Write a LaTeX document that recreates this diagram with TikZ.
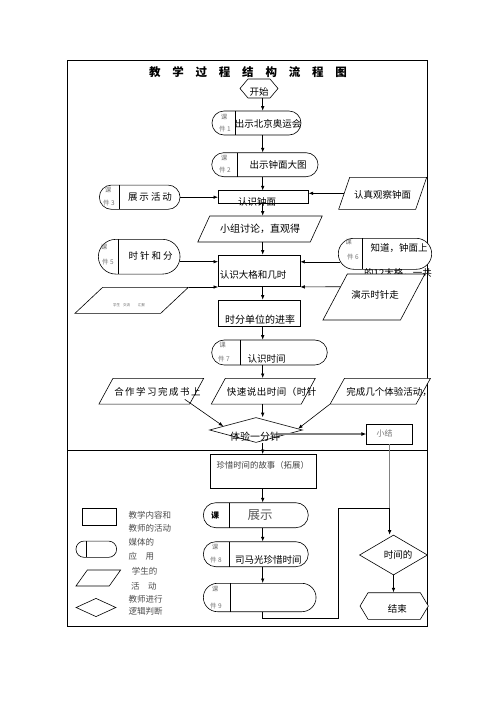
\documentclass[tikz,border=0pt]{standalone}
\usepackage{fontspec}
\setmainfont{Noto Sans CJK SC}
\usetikzlibrary{shapes.misc,shapes.geometric,shapes.symbols,arrows.meta,calc}
\newcommand{\tg}{\hspace{11.8pt}}
\begin{document}
\begin{tikzpicture}[x=1pt,y=-1pt,
  box/.style={draw,rectangle,line width=.6pt,fill=white,inner sep=0},
  pill/.style={draw,rounded rectangle,line width=.6pt,fill=white,inner sep=0},
  para/.style={draw,rectangle,line width=.6pt,fill=white,inner sep=0},
  dia/.style={draw,diamond,line width=.6pt,fill=white,inner sep=0},
  hexa/.style={draw,signal,signal to=west and east,line width=.6pt,fill=white,inner sep=0},
  tx/.style={inner sep=0,font=\fontsize{9.5}{10}\selectfont},
  sm/.style={inner sep=0,text=black!55,font=\fontsize{6.5}{7}\selectfont},
  lg/.style={inner sep=0,anchor=west,text=black!70,font=\fontsize{8.5}{9}\selectfont},
  divl/.style={line width=.6pt},
  arr/.style={line width=.6pt,-{Latex[length=4.5pt,width=3.5pt]}},
  gline/.style={draw=black!50,line width=1.3pt}]
\useasboundingbox (0,0) rectangle (496,702);
\fill[white] (0,0) rectangle (496,702);
% frame
\draw[line width=.8pt] (67.7,60.7) rectangle (427.7,626);
\draw[line width=.8pt] (67.7,450.7) -- (427.7,450.7);
\coordinate (ax) at (262.7,0);
% title
\node[inner sep=0,font=\bfseries\fontsize{11.5}{12}\selectfont] (title) at (248,72)
  {教\tg 学\tg 过\tg 程\tg 结\tg 构\tg 流\tg 程\tg 图};
% start
\node[hexa,minimum width=38,minimum height=19,signal pointer angle=100] (start) at (259,88.5) {};
\node[tx] (tstart) at (259,92) {开始};
% k1
\node[pill,minimum width=89,minimum height=24] (k1) at (256.5,123) {};
\draw[divl] (235,111) -- (235,135);
\node[sm] (k1a) at (224,117) {课};
\node[sm] (k1b) at (225,129) {件 1};
\node[tx] (k1t) at (268,124) {出示北京奥运会};
% k2
\node[pill,minimum width=106.3,minimum height=24] (k2) at (264.9,164.7) {};
\draw[divl] (237.3,152.7) -- (237.3,176.7);
\node[sm] (k2a) at (224,158) {课};
\node[sm] (k2b) at (225,170) {件 2};
\node[tx] (k2t) at (278,165) {出示钟面大图};
% 认识钟面
\node[box,minimum width=90,minimum height=12.6] (rzm) at (263.3,197) {};
\node[tx] (rzmt) at (257,202) {认识钟面};
% k3
\node[pill,minimum width=80.7,minimum height=24.3] (k3) at (139.7,197.2) {};
\draw[divl] (119.3,185) -- (119.3,209.3);
\node[sm] (k3a) at (108,190) {课};
\node[sm] (k3b) at (109,203) {件 3};
\node[tx] (k3t) at (150,197) {展\kern2pt 示\kern2pt 活\kern2pt 动};
% 认真观察钟面
\node[para,minimum width=77,minimum height=32,xslant=0.344] (rzgc) at (382.7,193.3) {};
\node[tx] (rzgct) at (382.7,195) {认真观察钟面};
% 小组讨论
\node[para,minimum width=112.5,minimum height=26,xslant=0.46] (xz) at (260,229) {};
\node[tx,font=\fontsize{10}{11}\selectfont] (xzt) at (260,229.3) {小组讨论，直观得};
% 认识大格和几时
\node[box,minimum width=81.7,minimum height=31.7] (dg) at (259.2,270.8) {};
\node[tx] (dgt) at (253,275) {认识大格和几时};
% k5
\node[pill,minimum width=81.7,minimum height=34.7] (k5) at (139.2,256.7) {};
\draw[divl] (118.3,239.3) -- (118.3,274);
\node[sm] (k5a) at (104,246.7) {课};
\node[sm] (k5b) at (108,261.7) {件 5};
\node[tx] (k5t) at (150.7,256) {时\kern2pt 针\kern2pt 和\kern2pt 分};
% k4 (left parallelogram)
\node[para,minimum width=85.7,minimum height=26,xslant=1.065] (k4) at (131.7,300.3) {};
\node[inner sep=0,text=black!60,font=\fontsize{3.5}{4}\selectfont] (k4t) at (129,305) {学生\hspace{3pt}交流\hspace{8pt}汇报};
% k6
\node[pill,minimum width=93.4,minimum height=31] (k6) at (385,253.8) {};
\draw[divl] (362,238.3) -- (362,269.3);
\node[sm] (k6a) at (348.5,242) {课};
\node[sm] (k6b) at (353,257) {件 6};
\node[tx] (k6t) at (399,248.3) {知道，钟面上};
\node[tx] (k6t2) at (398,273.3) {的12大格，一共};
% 演示时针走
\node[para,minimum width=77.5,minimum height=46,xslant=0.53] (ys) at (373.9,297) {};
\node[tx] (yst) at (375,295) {演示时针走};
% 时分单位的进率
\node[box,minimum width=82.4,minimum height=26.7] (sf) at (259.5,313.3) {};
\node[tx,font=\fontsize{10}{11}\selectfont] (sft) at (260,320) {时分单位的进率};
% k7
\node[pill,minimum width=115.6,minimum height=25] (k7) at (269.5,352.5) {};
\draw[divl] (240,340) -- (240,365);
\node[sm] (k7a) at (222.7,345.5) {课};
\node[sm] (k7b) at (224,359) {件 7};
\node[tx] (k7t) at (266.7,359.3) {认识时间};
% row of parallelograms
\node[para,minimum width=90.7,minimum height=25.7,xslant=0.545] (hz) at (151.3,391.2) {};
\node[tx] (hzt) at (157.5,391.5) {合\kern1.5pt 作\kern1.5pt 学\kern1.5pt 习\kern1.5pt 完\kern1.5pt 成\kern1.5pt 书\kern1.5pt 上};
\node[para,minimum width=90,minimum height=25.7,xslant=0.545] (ks) at (263.3,391.2) {};
\node[tx] (kst) at (271.7,391.5) {快\kern.5pt 速\kern.5pt 说\kern.5pt 出\kern.5pt 时\kern.5pt 间\kern.5pt （\kern.5pt 时\kern.5pt 针};
\node[para,minimum width=86,minimum height=25.7,xslant=0.557] (wc) at (380.3,391.2) {};
\node[tx] (wct) at (389,391.5) {完成几个体验活动，};
% 体验一分钟
\node[dia,minimum width=93,minimum height=25] (ty) at (256,430) {};
\node[tx,font=\fontsize{10}{11}\selectfont] (tyt) at (255,437) {体验一分钟};
% 小结
\node[box,minimum width=45.8,minimum height=19.6] (xj) at (389.6,434) {};
\node[inner sep=0,text=black!55,font=\fontsize{8}{9}\selectfont] (xjt) at (384.5,433.5) {小结};
% 珍惜时间的故事
\node[box,minimum width=105.3,minimum height=34] (zx) at (263.3,471.3) {};
\node[inner sep=0,text=black!75,font=\fontsize{8.4}{9}\selectfont] (zxt) at (262.7,465.7) {珍惜时间的故事（拓展）};
% 展示
\node[pill,minimum width=105,minimum height=25] (zs) at (255.8,515.2) {};
\draw[divl] (229.3,502.7) -- (229.3,527.7);
\node[inner sep=0,font=\bfseries\fontsize{8}{9}\selectfont] (zsa) at (215,515) {课};
\node[inner sep=0,text=black!65,font=\fontsize{12.5}{13}\selectfont] (zst) at (260,515) {展示};
% k8
\node[pill,minimum width=105,minimum height=25] (k8) at (255.8,554.2) {};
\draw[divl] (229.3,541.7) -- (229.3,566.7);
\node[sm] (k8a) at (215,547) {课};
\node[sm] (k8b) at (216,560) {件 8};
\node[tx] (k8t) at (268.3,560) {司马光珍惜时间};
% k9
\node[pill,minimum width=112.7,minimum height=28.4] (k9) at (259.7,597.5) {};
\draw[divl] (230.7,583.3) -- (230.7,611.7);
\node[sm] (k9a) at (215,589) {课};
\node[sm] (k9b) at (216,606) {件 9};
% 时间的
\node[dia,minimum width=68,minimum height=40] (sj) at (393.5,555) {};
\node[tx] (sjt) at (398,555) {时间的};
% 结束
\node[hexa,minimum width=68.3,minimum height=26.6,signal pointer angle=118] (js) at (394.2,606) {};
\node[tx] (jst) at (397.3,609) {结束};
% legend
\node[box,minimum width=33.3,minimum height=16.7] (l1) at (99.3,516.7) {};
\node[pill,minimum width=40.7,minimum height=16.3] (l2) at (96.3,549.2) {};
\draw[divl] (86,541) -- (86,557.3);
\node[para,minimum width=33.3,minimum height=16,xslant=0.71] (l3) at (98.3,578) {};
\node[dia,minimum width=40,minimum height=18.4] (l4) at (96,607.5) {};
\node[lg] (lt1) at (128.3,515) {教学内容和};
\node[lg] (lt2) at (128.3,528.3) {教师的活动};
\node[lg] (lt3) at (128.3,542.7) {媒体的};
\node[lg] (lt4) at (128.3,556.7) {应\hspace{8.5pt}用};
\node[lg] (lt5) at (131.7,571.7) {学生的};
\node[lg] (lt6) at (131,586) {活\hspace{8.5pt}动};
\node[lg] (lt7) at (128.3,599) {教师进行};
\node[lg] (lt8) at (128.3,611) {逻辑判断};
% connectors
\draw[arr] (start.south -| ax) -- (k1.north -| ax);
\draw[arr] (k1.south -| ax) -- (k2.north -| ax);
\draw[arr] (k2.south -| ax) -- (rzm.north -| ax);
\draw[arr] (k3.east) -- (k3.east -| rzm.west);
\draw[arr] (rzgc.west) -- (rzgc.west -| rzm.east);
\draw[arr] (rzm.south -| ax) -- (xz.north -| ax);
\draw[arr] (xz.south -| ax) -- (dg.north -| ax);
\coordinate (k5a) at ([yshift=-5pt]k5.east);
\draw[arr] (k5a) -- (k5a -| dg.west);
\draw[arr] (k4.north east) -- (k4.north east -| dg.west);
\coordinate (k6w) at ([xshift=2.2pt,yshift=-8pt]k6.west);
\draw[arr] (k6w) -- (k6w -| dg.east);
\draw[arr] ([xshift=5.5pt,yshift=10.3pt]ys.west) -- (dg.south east);
\draw[arr] (dg.south -| ax) -- (sf.north -| ax);
\draw[arr] (sf.south -| ax) -- (k7.north -| ax);
\draw[arr] (k7.south -| ax) -- (ks.north -| ax);
\draw[arr] (ks.south -| ax) -- (ty.north -| ax);
\draw[arr] ($(hz.south east)+(-5,-5)$) -- ($(ty.west)!0.3!(ty.north)$);
\draw[arr] (wc.south west) -- ($(ty.east)!0.1!(ty.north)$);
\draw[gline,-{Latex[length=5pt,width=4pt,color=black]}] ($(ty.center)+(22,4)$) -- (xj.west);
\draw[arr] (ty.south -| ax) -- (zx.north -| ax);
\draw[arr] (zx.south -| ax) -- (zs.north -| ax);
\draw[arr] (zs.south -| ax) -- (k8.north -| ax);
\draw[arr] (k8.south -| ax) -- (k9.north -| ax);
\coordinate (jn) at (389.6,508.3);
\coordinate (b1) at (338.3,618);
\draw[gline] (xj.south) -- (jn);
\draw[arr] (k9.south -| ax) -- (ax |- b1) -- (b1) -- (b1 |- jn) -- (jn) -- (jn |- sj.north);
\draw[arr] (sj.south) -- (sj.south |- js.north);
\end{tikzpicture}
\end{document}
